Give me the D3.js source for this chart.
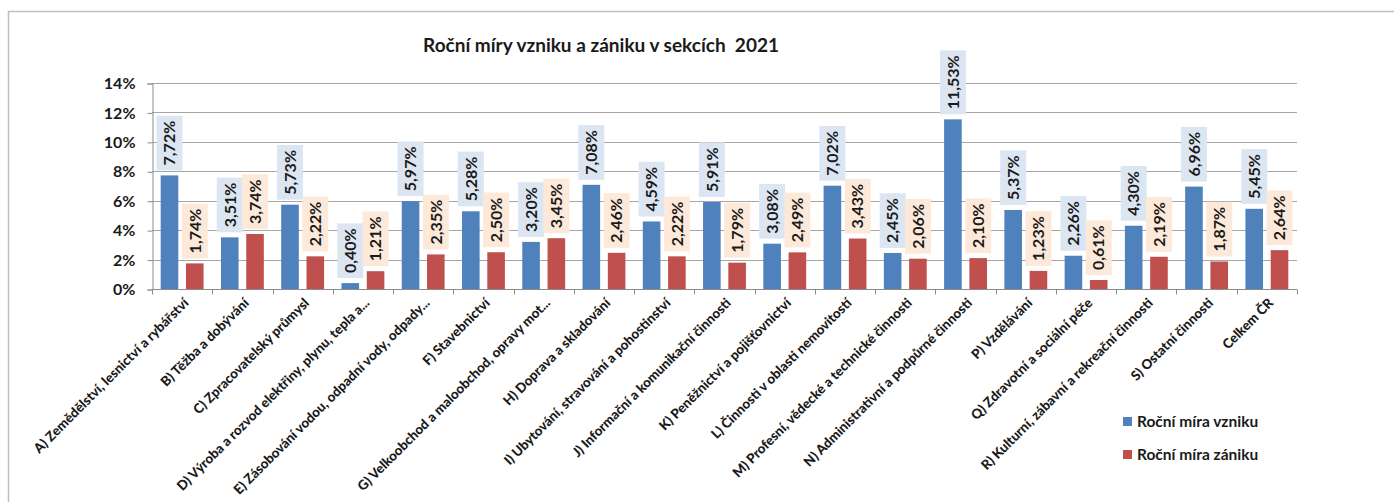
<!DOCTYPE html>
<html>
<head>
<meta charset="utf-8">
<script src="https://cdn.jsdelivr.net/npm/d3@7"></script>
<style>
  body { margin: 0; background: #fff; }
  text { font-family: Lato, "Open Sans", sans-serif; font-weight: bold; fill: #1a1a1a; }
</style>
</head>
<body>
<div id="chart"></div>
<script>
// Roční míry vzniku a zániku v sekcích 2021

const categories = [
  'A) Zemědělství, lesnictví a rybářství',
  'B) Těžba a dobývání',
  'C) Zpracovatelský průmysl',
  'D) Výroba a rozvod elektřiny, plynu, tepla a...',
  'E) Zásobování vodou, odpadní vody, odpady...',
  'F) Stavebnictví',
  'G) Velkoobchod a maloobchod, opravy mot...',
  'H) Doprava a skladování',
  'I) Ubytování, stravování a pohostinství',
  'J) Informační a komunikační činnosti',
  'K) Peněžnictví a pojišťovnictví',
  'L) Činnosti v oblasti nemovitostí',
  'M) Profesní, vědecké a technické činnosti',
  'N) Administrativní a podpůrné činnosti',
  'P) Vzdělávání',
  'Q) Zdravotní a sociální péče',
  'R) Kulturní, zábavní a rekreační činnosti',
  'S) Ostatní činnosti',
  'Celkem ČR'
];

const mieraVzniku = [7.72, 3.51, 5.73, 0.40, 5.97, 5.28, 3.20, 7.08, 4.59, 5.91, 3.08, 7.02, 2.45, 11.53, 5.37, 2.26, 4.30, 6.96, 5.45];
const mieraZaniku = [1.74, 3.74, 2.22, 1.21, 2.35, 2.50, 3.45, 2.46, 2.22, 1.79, 2.49, 3.43, 2.06, 2.10, 1.23, 0.61, 2.19, 1.87, 2.64];

const seriesNames = ['Roční míra vzniku', 'Roční míra zániku'];
const yTicks = [0, 2, 4, 6, 8, 10, 12, 14];

const width = 1394;
const height = 502;
const plot = { left: 152, right: 1297, top: 83, bottom: 289 };

const barColors = ['#4f81bd', '#c0504d'];
const labelBg = ['#dce6f2', '#fde9d9'];

const svg = d3.select('#chart')
  .append('svg')
  .attr('width', width)
  .attr('height', height);

// outer frame
svg.append('rect')
  .attr('x', 8.5)
  .attr('y', 11.5)
  .attr('width', width + 20)
  .attr('height', height + 20)
  .attr('fill', 'none')
  .attr('stroke', '#bfbfbf')
  .attr('stroke-width', 1.5);

svg.append('text')
  .attr('x', 601)
  .attr('y', 52)
  .attr('text-anchor', 'middle')
  .style('font-size', '19px')
  .style('white-space', 'pre')
  .text('Roční míry vzniku a zániku v sekcích  2021');

const x = d3.scaleBand()
  .domain(categories)
  .range([plot.left, plot.right]);

const xInner = d3.scaleBand()
  .domain([0, 1])
  .range([0, x.bandwidth()])
  .paddingInner(0.304)
  .paddingOuter(0.344);

const y = d3.scaleLinear()
  .domain([0, 14])
  .range([plot.bottom, plot.top]);

// gridlines
svg.append('g')
  .selectAll('line')
  .data(yTicks.filter(d => d > 0))
  .enter()
  .append('line')
  .attr('x1', plot.left)
  .attr('x2', plot.right)
  .attr('y1', d => Math.round(y(d)) + 0.5)
  .attr('y2', d => Math.round(y(d)) + 0.5)
  .attr('stroke', '#a6a6a6')
  .attr('stroke-width', 1);

// y axis
const yAxis = svg.append('g')
  .attr('transform', `translate(${plot.left + 0.5},0.5)`)
  .call(d3.axisLeft(y).tickValues(yTicks).tickSize(5).tickPadding(12).tickFormat(d => d + '%'));
yAxis.selectAll('path, line').attr('stroke', '#8c8c8c');
yAxis.selectAll('text')
  .style('font-size', '16px')
  .style('font-family', 'Lato, sans-serif')
  .style('font-weight', 'bold')
  .attr('fill', '#1a1a1a');

// bars
const series = [mieraVzniku, mieraZaniku];
series.forEach((values, si) => {
  const g = svg.append('g').attr('class', 'series-' + si);

  g.selectAll('rect')
    .data(values)
    .enter()
    .append('rect')
    .attr('x', (d, i) => x(categories[i]) + xInner(si))
    .attr('y', d => y(d))
    .attr('width', xInner.bandwidth())
    .attr('height', d => y(0) - y(d))
    .attr('fill', barColors[si]);

  // data labels in boxes, rotated
  values.forEach((v, i) => {
    const cx = x(categories[i]) + xInner(si) + xInner.bandwidth() / 2;
    const bottom = y(v) - 5;
    const lbl = g.append('g');
    const box = lbl.append('rect')
      .attr('fill', labelBg[si]);
    const t = lbl.append('text')
      .attr('transform', `translate(${cx},${bottom - 5}) rotate(-90)`)
      .attr('dy', '0.36em')
      .style('font-size', '16px')
      .text(v.toFixed(2).replace('.', ',') + '%');
    const len = t.node().getComputedTextLength();
    box.attr('x', cx - 13)
      .attr('y', bottom - len - 10)
      .attr('width', 26)
      .attr('height', len + 10);
  });
});

// x axis
const xAxis = svg.append('g')
  .attr('transform', `translate(0,${plot.bottom + 0.5})`);
xAxis.append('line')
  .attr('x1', plot.left)
  .attr('x2', plot.right)
  .attr('stroke', '#8c8c8c');
xAxis.selectAll('.tick')
  .data(categories.map(c => x(c)).concat([plot.right]))
  .enter()
  .append('line')
  .attr('x1', d => Math.round(d) + 0.5)
  .attr('x2', d => Math.round(d) + 0.5)
  .attr('y1', 0)
  .attr('y2', 5)
  .attr('stroke', '#8c8c8c');

xAxis.selectAll('text')
  .data(categories)
  .enter()
  .append('text')
  .attr('transform', d => `translate(${x(d) + x.bandwidth() / 2 + 4},${11}) rotate(-45)`)
  .attr('text-anchor', 'end')
  .attr('dy', '0.35em')
  .style('font-size', '13.4px')
  .style('font-weight', '900')
  .text(d => d);

// legend
const legend = svg.append('g')
  .attr('transform', 'translate(1123,417)');
seriesNames.forEach((name, i) => {
  const row = legend.append('g').attr('transform', `translate(0,${i * 33})`);
  row.append('rect')
    .attr('width', 9)
    .attr('height', 9)
    .attr('fill', barColors[i]);
  row.append('text')
    .attr('x', 14)
    .attr('y', 10)
    .style('font-size', '15.5px')
    .text(name);
});
</script>
</body>
</html>
